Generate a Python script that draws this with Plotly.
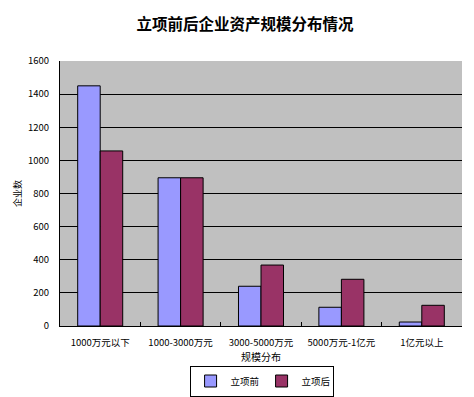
import plotly.graph_objects as go

categories = ["1000万元以下", "1000-3000万元", "3000-5000万元", "5000万元-1亿元", "1亿元以上"]
before = [1450, 895, 240, 113, 24]
after = [1057, 895, 368, 282, 125]
series_names = ["立项前", "立项后"]
y_ticks = [0, 200, 400, 600, 800, 1000, 1200, 1400, 1600]

FONT = "Noto Sans CJK SC"
H = 397

fig = go.Figure()
fig.add_trace(go.Bar(x=categories, y=before, name=series_names[0],
                     marker=dict(color="#9999FF", line=dict(color="black", width=1))))
fig.add_trace(go.Bar(x=categories, y=after, name=series_names[1],
                     marker=dict(color="#993366", line=dict(color="black", width=1))))

fig.update_layout(
    width=474, height=H,
    paper_bgcolor="white", plot_bgcolor="#C0C0C0",
    margin=dict(l=52, r=20, t=53, b=79, autoexpand=False),
    font=dict(family=FONT, size=9, color="black"),
    title=dict(text="<b>立项前后企业资产规模分布情况</b>", x=0.5, xanchor="center",
               y=1 - 17 / H, yanchor="middle", font=dict(size=15.5, family=FONT)),
    barmode="group", bargap=0.44, bargroupgap=0,
    showlegend=True,
    legend=dict(orientation="h", x=0.535, xanchor="center", xref="container",
                y=1 - 373 / H, yanchor="middle", yref="container",
                bordercolor="black", borderwidth=1, font=dict(size=9.5),
                itemwidth=30, entrywidth=26, entrywidthmode="pixels",
                tracegroupgap=0),
)
fig.update_xaxes(
    title=dict(text="规模分布", font=dict(size=10), standoff=4),
    showline=True, linecolor="black", linewidth=1,
    ticks="inside", tickson="boundaries", ticklen=4, tickcolor="black",
    tickfont=dict(size=9.5), ticklabelstandoff=8,
)
fig.update_yaxes(
    title=dict(text="企业数", font=dict(size=9), standoff=4),
    range=[0, 1600], tickvals=y_ticks,
    showgrid=True, gridcolor="black", gridwidth=1,
    showline=True, linecolor="black", linewidth=1,
    ticks="", ticklabelstandoff=8,
    tickfont=dict(size=9.5),
    zeroline=False,
)

fig.write_html("out.html")
